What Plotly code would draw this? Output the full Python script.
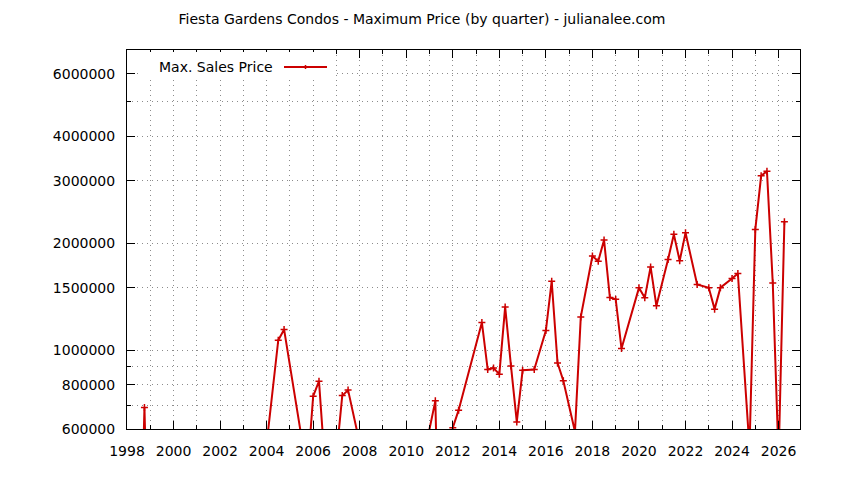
import math
import plotly.graph_objects as go

# ---- data ----
quarters = [
    1998.5, 1998.75, 1999.0,
    2004.0, 2004.5, 2004.75, 2005.75, 2006.0, 2006.25, 2006.5,
    2007.0, 2007.25, 2007.5, 2008.0,
    2010.75, 2011.25, 2011.5, 2012.0, 2012.25,
    2013.25, 2013.5, 2013.75, 2014.0, 2014.25, 2014.5, 2014.75,
    2015.0, 2015.5, 2016.0, 2016.25, 2016.5, 2016.75, 2017.25, 2017.5,
    2018.0, 2018.25, 2018.5, 2018.75, 2019.0, 2019.25,
    2020.0, 2020.25, 2020.5, 2020.75, 2021.25, 2021.5, 2021.75, 2022.0,
    2022.5, 2023.0, 2023.25, 2023.5, 2024.0, 2024.25, 2024.75,
    2025.0, 2025.25, 2025.5, 2025.75, 2026.0, 2026.25,
]
max_price = [
    150000, 690000, 150000,
    545000, 1067000, 1144000, 450000, 742000, 818000, 480000,
    506000, 745000, 772000, 547000,
    500000, 720000, 150000, 605000, 678000,
    1197000, 882000, 891000, 856000, 1324000, 903000, 628000,
    878000, 882000, 1136000, 1564000, 921000, 820000, 590000, 1241000,
    1841000, 1781000, 2042000, 1407000, 1392000, 1011000,
    1498000, 1404000, 1716000, 1333000, 1801000, 2119000, 1785000, 2140000,
    1531000, 1498000, 1305000, 1500000, 1592000, 1644000, 530000,
    2188000, 3097000, 3190000, 1545000, 493000, 2298000,
]
x_tick_years = list(range(1998, 2027, 2))
y_major_ticks = [600000, 800000, 1000000, 1500000, 2000000, 3000000, 4000000, 6000000]
y_minor_ticks = [700000, 900000, 5000000, 7000000]
series_name = "Max. Sales Price"
title_text = "Fiesta Gardens Condos - Maximum Price (by quarter) - julianalee.com"

RED = "#cc0000"
GRID = "#8c8c8c"
FONT = "DejaVu Sans"
DOT = "1px,4px"
FS = 14

# the page body has an 8px margin, so work in page pixels and shift
OFF = 8
PAGE_W, PAGE_H = 844, 480
W, H = PAGE_W - OFF, PAGE_H - OFF
# plot area in page pixels
L, R, T, B = 127, 800, 50, 429

def px_x(p):
    return (p - L) / (R - L)

def px_y(p):
    return (B - p) / (B - T)

fig = go.Figure()
fig.add_trace(go.Scatter(
    x=quarters, y=max_price, mode="lines+markers", name=series_name,
    line=dict(color=RED, width=2),
    marker=dict(symbol="cross-thin", size=5, color=RED, line=dict(color=RED, width=1.5)),
    showlegend=False, cliponaxis=True,
))

fig.update_layout(
    width=W, height=H,
    margin=dict(l=L - OFF, r=PAGE_W - R, t=T - OFF, b=PAGE_H - B, autoexpand=False),
    paper_bgcolor="white", plot_bgcolor="white",
    font=dict(family=FONT, size=FS, color="#000000"),
    title=dict(text=title_text, x=(422 - OFF) / W, xanchor="center",
               y=1 - (19 - OFF) / H, yanchor="middle",
               font=dict(family=FONT, size=FS, color="#000000")),
    showlegend=False,
)

fig.update_xaxes(
    range=[1998, 2026.92], tickmode="array", tickvals=x_tick_years,
    ticktext=[str(v) for v in x_tick_years], automargin=False,
    ticks="inside", ticklen=8, tickwidth=1, tickcolor="black",
    showline=True, linecolor="black", linewidth=1, mirror="allticks",
    showgrid=True, gridcolor=GRID, gridwidth=1, griddash=DOT, zeroline=False,
    ticklabelstandoff=9,
    tickfont=dict(family=FONT, size=FS, color="black"),
    minor=dict(tick0=1998, dtick=1, ticks="inside", ticklen=4, tickcolor="black",
               showgrid=True, gridcolor=GRID, gridwidth=1, griddash=DOT),
)
fig.update_yaxes(
    type="log", range=[math.log10(600000), math.log10(7000000)],
    tickmode="array", tickvals=y_major_ticks, ticktext=[str(v) for v in y_major_ticks],
    automargin=False,
    ticks="inside", ticklen=8, tickwidth=1, tickcolor="black",
    showline=True, linecolor="black", linewidth=1, mirror="allticks",
    showgrid=True, gridcolor=GRID, gridwidth=1, griddash=DOT, zeroline=False,
    ticklabelstandoff=8,
    tickfont=dict(family=FONT, size=FS, color="black"),
    minor=dict(tickmode="array", tickvals=y_minor_ticks, ticks="inside", ticklen=4,
               tickcolor="black", showgrid=True, gridcolor=GRID, gridwidth=1, griddash=DOT),
)

# gnuplot-style key: text first, then line sample
fig.add_shape(type="rect", xref="paper", yref="paper",
              x0=px_x(140), x1=px_x(336), y0=px_y(78), y1=px_y(52),
              fillcolor="white", line=dict(width=0), layer="above")
fig.add_shape(type="line", xref="paper", yref="paper",
              x0=px_x(284), x1=px_x(327), y0=px_y(67), y1=px_y(67),
              line=dict(color=RED, width=2), layer="above")
fig.add_shape(type="line", xref="paper", yref="paper",
              x0=px_x(305.5), x1=px_x(305.5), y0=px_y(65), y1=px_y(69),
              line=dict(color=RED, width=1.5), layer="above")
fig.add_annotation(text=series_name, xref="paper", yref="paper",
                   x=px_x(275), y=px_y(67), xanchor="right", yanchor="middle",
                   showarrow=False, font=dict(family=FONT, size=FS, color="black"))

fig.write_html("out.html")
